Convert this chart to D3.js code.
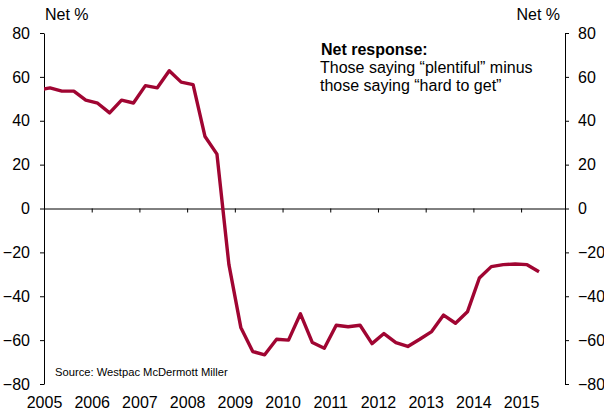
<!DOCTYPE html>
<html>
<head>
<meta charset="utf-8">
<script src="https://cdn.jsdelivr.net/npm/d3@7"></script>
<style>
  body { margin: 0; background: #fff; }
  svg { font-family: "Liberation Sans", Arial, sans-serif; }
  .axis path, .axis line { stroke: #000; }
  .axis text { fill: #000; font-size: 16px; }
</style>
</head>
<body>
<svg id="chart" width="604" height="417"></svg>
<script>
// quarterly, starting 2004 Q4 (clipped at left edge)
var quarters = [];
for (var i = 0; i < 44; i++) quarters.push({ year: 2004 + Math.floor((i + 3) / 4), q: ((i + 3) % 4) + 1 });

var netValues = [
  54,
  55, 53.5, 53.5, 49.4,
  48, 43.6, 49.4, 48.1,
  56, 55, 62.8, 57.6,
  56.5, 32.8, 24.8, -25.5,
  -54.2, -65.2, -66.7, -59.6,
  -60, -48, -61.1, -63.7,
  -53.2, -53.9, -53.2, -61.6,
  -57, -61.1, -62.9, -59.6,
  -56.1, -48.6, -52.3, -47.1,
  -31.7, -26.5, -25.6, -25.3,
  -25.6, -28.8
];
var yearLabels = [2005, 2006, 2007, 2008, 2009, 2010, 2011, 2012, 2013, 2014, 2015];
var yTicks = [-80, -60, -40, -20, 0, 20, 40, 60, 80];
var noteLines = ["Those saying \u201cplentiful\u201d minus", "those saying \u201chard to get\u201d"];

var svg = d3.select("#chart");
var plotLeft = 44, plotRight = 565, plotTop = 33, plotBottom = 384;

var x = d3.scaleLinear().domain([2005, 2015.92]).range([plotLeft, plotRight]);
var y = d3.scaleLinear().domain([-80, 80]).range([plotBottom, plotTop]);

var data = netValues.map(function (v, i) {
  var qd = quarters[i];
  return { t: qd.year + (qd.q - 0.5) / 4, v: v };
});

svg.append("defs").append("clipPath").attr("id", "plot")
  .append("rect").attr("x", plotLeft).attr("y", 0).attr("width", plotRight - plotLeft).attr("height", 417);

// zero line with year ticks
svg.append("g").attr("class", "axis")
  .attr("transform", "translate(0," + y(0) + ")")
  .call(d3.axisBottom(x).tickValues(yearLabels.slice(1)).tickSize(4).tickSizeOuter(0).tickFormat(""));

// year labels
svg.append("g").attr("class", "axis")
  .attr("transform", "translate(0," + plotBottom + ")")
  .call(d3.axisBottom(x).tickValues(yearLabels).tickSize(0).tickPadding(13).tickFormat(d3.format("d")))
  .call(function (g) { g.select(".domain").remove(); });

svg.append("g").attr("class", "axis")
  .attr("transform", "translate(" + plotLeft + ",0)")
  .call(d3.axisLeft(y).tickValues(yTicks).tickSize(4).tickSizeOuter(0).tickPadding(10));

svg.append("g").attr("class", "axis")
  .attr("transform", "translate(" + plotRight + ",0)")
  .call(d3.axisRight(y).tickValues(yTicks).tickSize(4).tickSizeOuter(0).tickPadding(9));

var line = d3.line().x(function (d) { return x(d.t); }).y(function (d) { return y(d.v); });

svg.append("path")
  .datum(data)
  .attr("clip-path", "url(#plot)")
  .attr("d", line)
  .attr("fill", "none")
  .attr("stroke", "#a00532")
  .attr("stroke-width", 3.4)
  .attr("stroke-linejoin", "round");

svg.append("text").attr("x", 45).attr("y", 20).attr("font-size", 16).text("Net %");
svg.append("text").attr("x", 560).attr("y", 20).attr("font-size", 16).attr("text-anchor", "end").text("Net %");

svg.append("text").attr("x", 321).attr("y", 55).attr("font-size", 16).attr("font-weight", "bold").text("Net response:");
svg.selectAll(".note").data(noteLines).enter().append("text")
  .attr("x", 320).attr("y", function (d, i) { return 73 + i * 18; })
  .attr("font-size", 16).text(function (d) { return d; });

svg.append("text").attr("x", 55).attr("y", 376).attr("font-size", 11.2).text("Source: Westpac McDermott Miller");
</script>
</body>
</html>
